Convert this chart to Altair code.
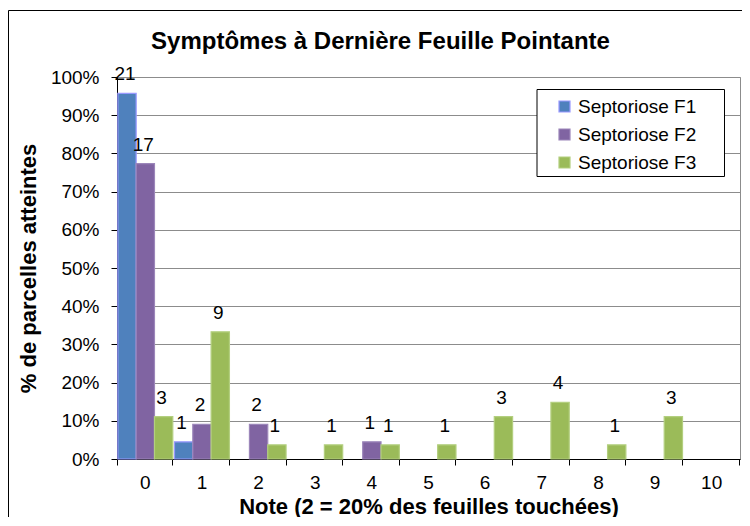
import altair as alt
import pandas as pd

notes = list(range(11))
series = ["Septoriose F1", "Septoriose F2", "Septoriose F3"]
f1_pct = [0.957, 0.045, 0, 0, 0, 0, 0, 0, 0, 0, 0]
f2_pct = [0.773, 0.091, 0.091, 0, 0.045, 0, 0, 0, 0, 0, 0]
f3_pct = [0.111, 0.333, 0.037, 0.037, 0.037, 0.037, 0.111, 0.148, 0.037, 0.111, 0]
f1_n = [21, 1, 0, 0, 0, 0, 0, 0, 0, 0, 0]
f2_n = [17, 2, 2, 0, 1, 0, 0, 0, 0, 0, 0]
f3_n = [3, 9, 1, 1, 1, 1, 3, 4, 1, 3, 0]
y_ticks = [0, 0.1, 0.2, 0.3, 0.4, 0.5, 0.6, 0.7, 0.8, 0.9, 1.0]

fill_colors = ["#4F81BD", "#8064A2", "#9BBB59"]
stroke_colors = ["#9999FF", "#9C86BA", "#B3CF7F"]

rows = []
for s, pcts, ns in zip(series, [f1_pct, f2_pct, f3_pct], [f1_n, f2_n, f3_n]):
    for n, p, c in zip(notes, pcts, ns):
        rows.append({"note": n, "serie": s, "pct": p, "count": c})
df = pd.DataFrame(rows)

FONT = "Liberation Sans"

x_enc = alt.X(
    "note:O",
    scale=alt.Scale(domain=notes, paddingInner=0.03, paddingOuter=0.015),
    axis=alt.Axis(
        title="Note (2 = 20% des feuilles touchées)",
        labelAngle=0,
        bandPosition=1,
        tickExtra=True,
        tickSize=6,
        tickColor="black",
        domainColor="black",
        labelPadding=8,
        titlePadding=4,
        grid=False,
        labelOverlap=False,
        labelFont=FONT,
        labelFontSize=19,
        labelColor="black",
        titleFont=FONT,
        titleFontSize=22,
        titleFontWeight="bold",
        titleColor="black",
    ),
)
xoff_enc = alt.XOffset("serie:N", scale=alt.Scale(domain=series, paddingInner=0, paddingOuter=0))
y_enc = alt.Y(
    "pct:Q",
    scale=alt.Scale(domain=[0, 1], nice=False),
    axis=alt.Axis(
        title="% de parcelles atteintes",
        format=".0%",
        values=y_ticks,
        tickCount=11,
        tickSize=6,
        tickColor="black",
        domainColor="black",
        grid=True,
        gridColor="#8C8C8C",
        labelPadding=12,
        titlePadding=10,
        labelOverlap=False,
        labelFont=FONT,
        labelFontSize=19,
        labelColor="black",
        titleFont=FONT,
        titleFontSize=22,
        titleFontWeight="bold",
        titleColor="black",
    ),
)

border = alt.Chart(pd.DataFrame({"k": [0]})).mark_rect(
    fill=None, stroke="black", strokeWidth=1
).encode(
    x=alt.value(-108.5), x2=alt.value(700), y=alt.value(-66.5), y2=alt.value(600)
)

legend_spec = alt.Legend(
    title=None,
    orient="none",
    legendX=438,
    legendY=20,
    symbolType="square",
    symbolSize=121,
    symbolStrokeWidth=1.2,
    labelFontSize=19,
    labelFont=FONT,
    labelColor="black",
    labelOffset=4,
    rowPadding=8,
    padding=0,
)

bars = alt.Chart(df).transform_filter("datum.count > 0").mark_bar(strokeWidth=1.2).encode(
    x=x_enc,
    xOffset=xoff_enc,
    y=y_enc,
    color=alt.Color(
        "serie:N",
        scale=alt.Scale(domain=series, range=fill_colors),
        legend=legend_spec,
    ),
    stroke=alt.Stroke(
        "serie:N",
        scale=alt.Scale(domain=series, range=stroke_colors),
        legend=legend_spec,
    ),
)

labels = alt.Chart(df).transform_filter("datum.count > 0").mark_text(
    baseline="alphabetic", dy=-13, dx=-2, fontSize=19, font=FONT, color="black"
).encode(
    x=x_enc,
    xOffset=xoff_enc,
    y=y_enc,
    text=alt.Text("count:Q"),
)

legend_box = alt.Chart(pd.DataFrame({"k": [0]})).mark_rect(
    fill="white", stroke="black", strokeWidth=1
).encode(
    x=alt.value(420), x2=alt.value(607.5), y=alt.value(12.5), y2=alt.value(99.5)
)

chart = alt.layer(border, bars, labels, legend_box).properties(
    width=623,
    height=382,
    autosize=alt.AutoSizeParams(type="none"),
    padding={"left": 109, "top": 69, "right": 2, "bottom": 58},
    title=alt.TitleParams(
        "Symptômes à Dernière Feuille Pointante",
        fontSize=24,
        font=FONT,
        fontWeight="bold",
        anchor="middle",
        baseline="bottom",
        dx=-48,
        dy=78,
        offset=10,
        color="black",
    ),
).configure(background="white").configure_view(
    stroke="#8C8C8C", strokeWidth=1
)

chart.save("out.html", embed_options={"renderer": "svg", "actions": False})
